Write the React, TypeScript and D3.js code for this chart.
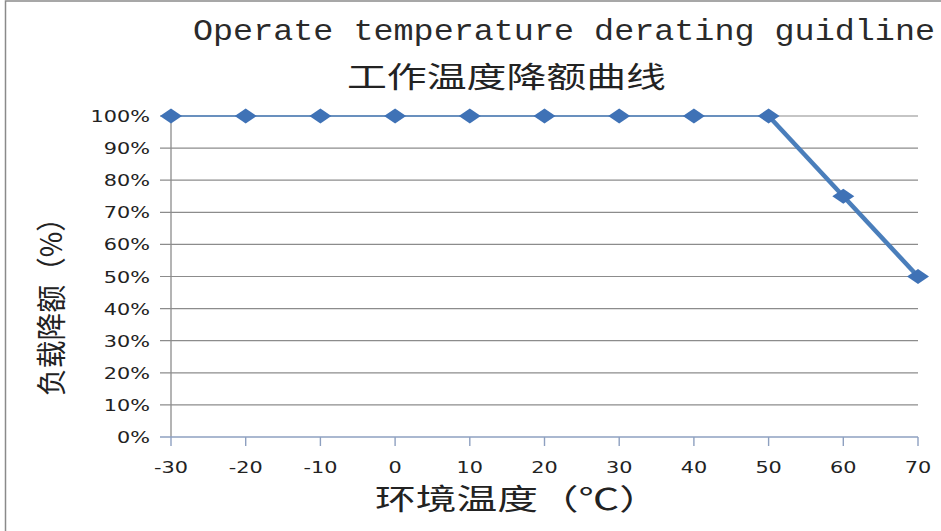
import React from "react";
import * as d3 from "d3";

const temps = [-30, -20, -10, 0, 10, 20, 30, 40, 50, 60, 70];
const load = [1, 1, 1, 1, 1, 1, 1, 1, 1, 0.75, 0.5];
const yTicks = [0, 0.1, 0.2, 0.3, 0.4, 0.5, 0.6, 0.7, 0.8, 0.9, 1];
const titleEn = "Operate temperature derating guidline";
const titleZh = "工作温度降额曲线";
const xLabel = "环境温度（℃）";
const yLabel = "负载降额（%）";

const W = 941;
const H = 531;
const SX = 1.3;
const BLUE = "#4a7ebb";
const MARK = "#3f72b6";

export default function App() {
  const x = d3.scaleLinear().domain([-30, 70]).range([171, 918]);
  const y = d3.scaleLinear().domain([0, 1]).range([437, 116]);
  const pts = temps.map((t, i) => [t, load[i]] as [number, number]);
  const line = d3
    .line<[number, number]>()
    .x((d) => x(d[0]))
    .y((d) => y(d[1]));
  const splitIdx = load.findIndex((v) => v < 1) - 1;
  const flat = pts.slice(0, splitIdx + 1);
  const drop = pts.slice(splitIdx);
  const tickFont = "DejaVu Sans, sans-serif";
  const diamond = (cx: number, cy: number) =>
    `M${cx - 11},${cy} L${cx},${cy - 7.5} L${cx + 11},${cy} L${cx},${cy + 7.5} Z`;

  return (
    <svg
      width={W}
      height={H}
      style={{ position: "absolute", left: 0, top: 0, background: "#fff" }}
    >
      <rect x={5.5} y={1} width={1200} height={1200} fill="#fff" stroke="#8a8a8a" strokeWidth={1.5} />

      {/* gridlines */}
      {yTicks.map((t) =>
        t === 0 ? null : (
          <line key={"g" + t} x1={160} x2={918} y1={y(t)} y2={y(t)} stroke="#8c8c8c" strokeWidth={1.2} />
        )
      )}
      {/* y axis */}
      <line x1={171} x2={171} y1={y(1)} y2={y(0)} stroke="#8c8c8c" strokeWidth={1.3} />
      {/* x axis */}
      <line x1={160} x2={918} y1={y(0)} y2={y(0)} stroke="#8ea0c0" strokeWidth={1.4} />
      {temps.map((t) => (
        <line key={"xt" + t} x1={x(t)} x2={x(t)} y1={y(0)} y2={y(0) + 9} stroke="#8ea0c0" strokeWidth={1.4} />
      ))}

      {/* y tick labels */}
      {yTicks.map((t) => (
        <text
          key={"yl" + t}
          transform={`translate(150,${y(t) + 6}) scale(${SX},1)`}
          textAnchor="end"
          fontFamily={tickFont}
          fontSize={16}
          fill="#222"
        >
          {Math.round(t * 100) + "%"}
        </text>
      ))}
      {/* x tick labels */}
      {temps.map((t) => (
        <text
          key={"xl" + t}
          transform={`translate(${x(t)},473) scale(${SX},1)`}
          textAnchor="middle"
          fontFamily={tickFont}
          fontSize={16}
          fill="#222"
        >
          {t}
        </text>
      ))}

      {/* data */}
      <path d={line(flat) || ""} fill="none" stroke={BLUE} strokeWidth={1.6} />
      <path d={line(drop) || ""} fill="none" stroke={BLUE} strokeWidth={4.5} strokeLinejoin="round" />
      {pts.map((p, i) => (
        <path key={"m" + i} d={diamond(x(p[0]), y(p[1]))} fill={MARK} />
      ))}

      {/* titles */}
      <text
        x={193}
        y={40}
        textLength={742}
        lengthAdjust="spacingAndGlyphs"
        fontFamily="Liberation Mono, monospace"
        fontSize={29}
        fill="#2a2a2a"
      >
        {titleEn}
      </text>
      <text
        x={347}
        y={88}
        textLength={319}
        lengthAdjust="spacingAndGlyphs"
        fontFamily="Noto Sans CJK SC, sans-serif"
        fontSize={29}
        fill="#222"
      >
        {titleZh}
      </text>
      <text
        x={375}
        y={510}
        textLength={285}
        lengthAdjust="spacingAndGlyphs"
        fontFamily="Noto Sans CJK SC, sans-serif"
        fontSize={29}
        fill="#222"
      >
        {xLabel}
      </text>
      <text
        transform="translate(62,396) rotate(-90)"
        textLength={192}
        lengthAdjust="spacingAndGlyphs"
        fontFamily="Noto Sans CJK SC, sans-serif"
        fontSize={30}
        fill="#222"
      >
        {yLabel}
      </text>
    </svg>
  );
}
